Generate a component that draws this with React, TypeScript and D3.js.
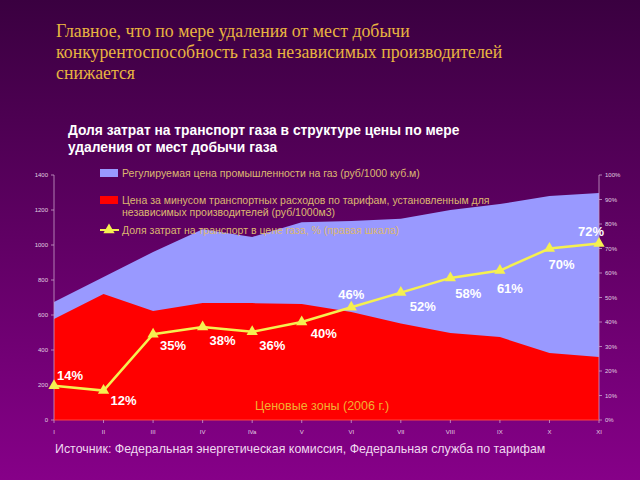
import React from "react";
import * as d3 from "d3";

const zones = ["I", "II", "III", "IV", "IVa", "V", "VI", "VII", "VIII", "IX", "X", "XI"];
// регулируемая цена (руб/1000 куб.м)
const regulatedPrice = [674, 817, 960, 1090, 1046, 1130, 1137, 1150, 1200, 1234, 1280, 1297];
// цена за минусом транспортных расходов
const netPrice = [577, 720, 623, 669, 668, 663, 617, 552, 497, 474, 383, 360];
// доля затрат на транспорт, %
const transportShare = [14, 12, 35, 38, 36, 40, 46, 52, 58, 61, 70, 72];
const leftTicks = [0, 200, 400, 600, 800, 1000, 1200, 1400];
const rightTicks = [0, 10, 20, 30, 40, 50, 60, 70, 80, 90, 100];
// label offsets relative to the point (dx, dy)
const labelPos: [number, number][] = [
  [16, -6], [20, 14], [20, 16], [20, 18], [20, 18], [22, 16],
  [0, -8], [22, 18], [18, 20], [10, 22], [12, 20], [-8, -8],
];

export default function App() {
  const W = 640, H = 480;
  const x = d3.scalePoint<string>().domain(zones).range([54, 599]);
  const yL = d3.scaleLinear().domain([0, 1400]).range([420, 175]);
  const yR = d3.scaleLinear().domain([0, 100]).range([420, 175]);

  const area = d3.area<number>()
    .x((_, i) => x(zones[i])!)
    .y0(yL(0))
    .y1((d) => yL(d));
  const line = d3.line<number>()
    .x((_, i) => x(zones[i])!)
    .y((d) => yR(d));
  const tri = d3.symbol().type(d3.symbolTriangle).size(55)();

  const sans = "Arial, 'Liberation Sans', sans-serif";
  const legendColor = "#dcb870";

  return (
    <svg width={W} height={H} style={{ position: "absolute", left: 0, top: 0 }}>
      <defs>
        <linearGradient id="bg" x1="0" y1="0" x2="0" y2="1">
          <stop offset="0" stopColor="#3a0040" />
          <stop offset="1" stopColor="#860088" />
        </linearGradient>
      </defs>
      <rect width={W} height={H} fill="url(#bg)" />

      <g fontFamily="'Liberation Serif', 'DejaVu Serif', serif" fontSize={17.8} fill="#e8b440">
        <text x={56} y={37}>Главное, что по мере удаления от мест добычи</text>
        <text x={56} y={58}>конкурентоспособность газа независимых производителей</text>
        <text x={56} y={79}>снижается</text>
      </g>
      <g fontFamily={sans} fontSize={13.8} fontWeight="bold" fill="#ffffff">
        <text x={68} y={135}>Доля затрат на транспорт газа в структуре цены по мере</text>
        <text x={68} y={152}>удаления от мест добычи газа</text>
      </g>

      <path d={area(regulatedPrice)!} fill="#9999ff" />
      <path d={area(netPrice)!} fill="#ff0000" />

      {/* axes */}
      <line x1={54} x2={54} y1={175} y2={420} stroke="#c8a0c8" strokeWidth={0.8} />
      <line x1={599} x2={599} y1={175} y2={420} stroke="#c8a0c8" strokeWidth={0.8} />
      <line x1={54} x2={599} y1={420} y2={420} stroke="#ff4040" strokeWidth={1} />
      <g fontFamily={sans} fontSize={6} fill="#e0d0e0">
        {leftTicks.map((t) => (
          <g key={t}>
            <line x1={51} x2={54} y1={yL(t)} y2={yL(t)} stroke="#c8a0c8" strokeWidth={0.8} />
            <text x={48} y={yL(t) + 2} textAnchor="end">{t}</text>
          </g>
        ))}
        {rightTicks.map((t) => (
          <g key={t}>
            <line x1={599} x2={602} y1={yR(t)} y2={yR(t)} stroke="#c8a0c8" strokeWidth={0.8} />
            <text x={605} y={yR(t) + 2}>{t}%</text>
          </g>
        ))}
        {zones.map((z) => (
          <g key={z}>
            <line x1={x(z)!} x2={x(z)!} y1={420} y2={423} stroke="#c8a0c8" strokeWidth={0.8} />
            <text x={x(z)!} y={434} textAnchor="middle">{z}</text>
          </g>
        ))}
      </g>

      <path d={line(transportShare)!} fill="none" stroke="#f5f050" strokeWidth={2.5} />
      {transportShare.map((v, i) => (
        <path key={i} d={tri!} transform={`translate(${x(zones[i])},${yR(v)})`} fill="#f5f050" />
      ))}
      <g fontFamily={sans} fontSize={13} fontWeight="bold" fill="#ffffff" textAnchor="middle">
        {transportShare.map((v, i) => (
          <text key={i} x={x(zones[i])! + labelPos[i][0]} y={yR(v) + labelPos[i][1]}>{v}%</text>
        ))}
      </g>

      {/* legend */}
      <g fontFamily={sans} fontSize={10.5} fill={legendColor}>
        <rect x={100} y={169} width={18} height={8} fill="#9999ff" />
        <text x={122} y={177}>Регулируемая цена промышленности на газ (руб/1000 куб.м)</text>
        <rect x={100} y={196} width={18} height={8} fill="#ff0000" />
        <text x={122} y={204}>Цена за минусом транспортных расходов по тарифам, установленным для</text>
        <text x={122} y={216}>независимых производителей (руб/1000м3)</text>
        <line x1={100} x2={119} y1={230} y2={230} stroke="#f5f050" strokeWidth={2} />
        <path d={tri!} transform="translate(109,230)" fill="#f5f050" />
        <text x={122} y={234}>Доля затрат на транспорт в цене газа, % (правая шкала)</text>
      </g>

      <text x={255} y={410} fontFamily={sans} fontSize={12.5} fill="#f2b030">Ценовые зоны (2006 г.)</text>
      <text x={55} y={453} fontFamily={sans} fontSize={12.4} fill="#f0d8f0">
        Источник: Федеральная энергетическая комиссия, Федеральная служба по тарифам
      </text>
    </svg>
  );
}
